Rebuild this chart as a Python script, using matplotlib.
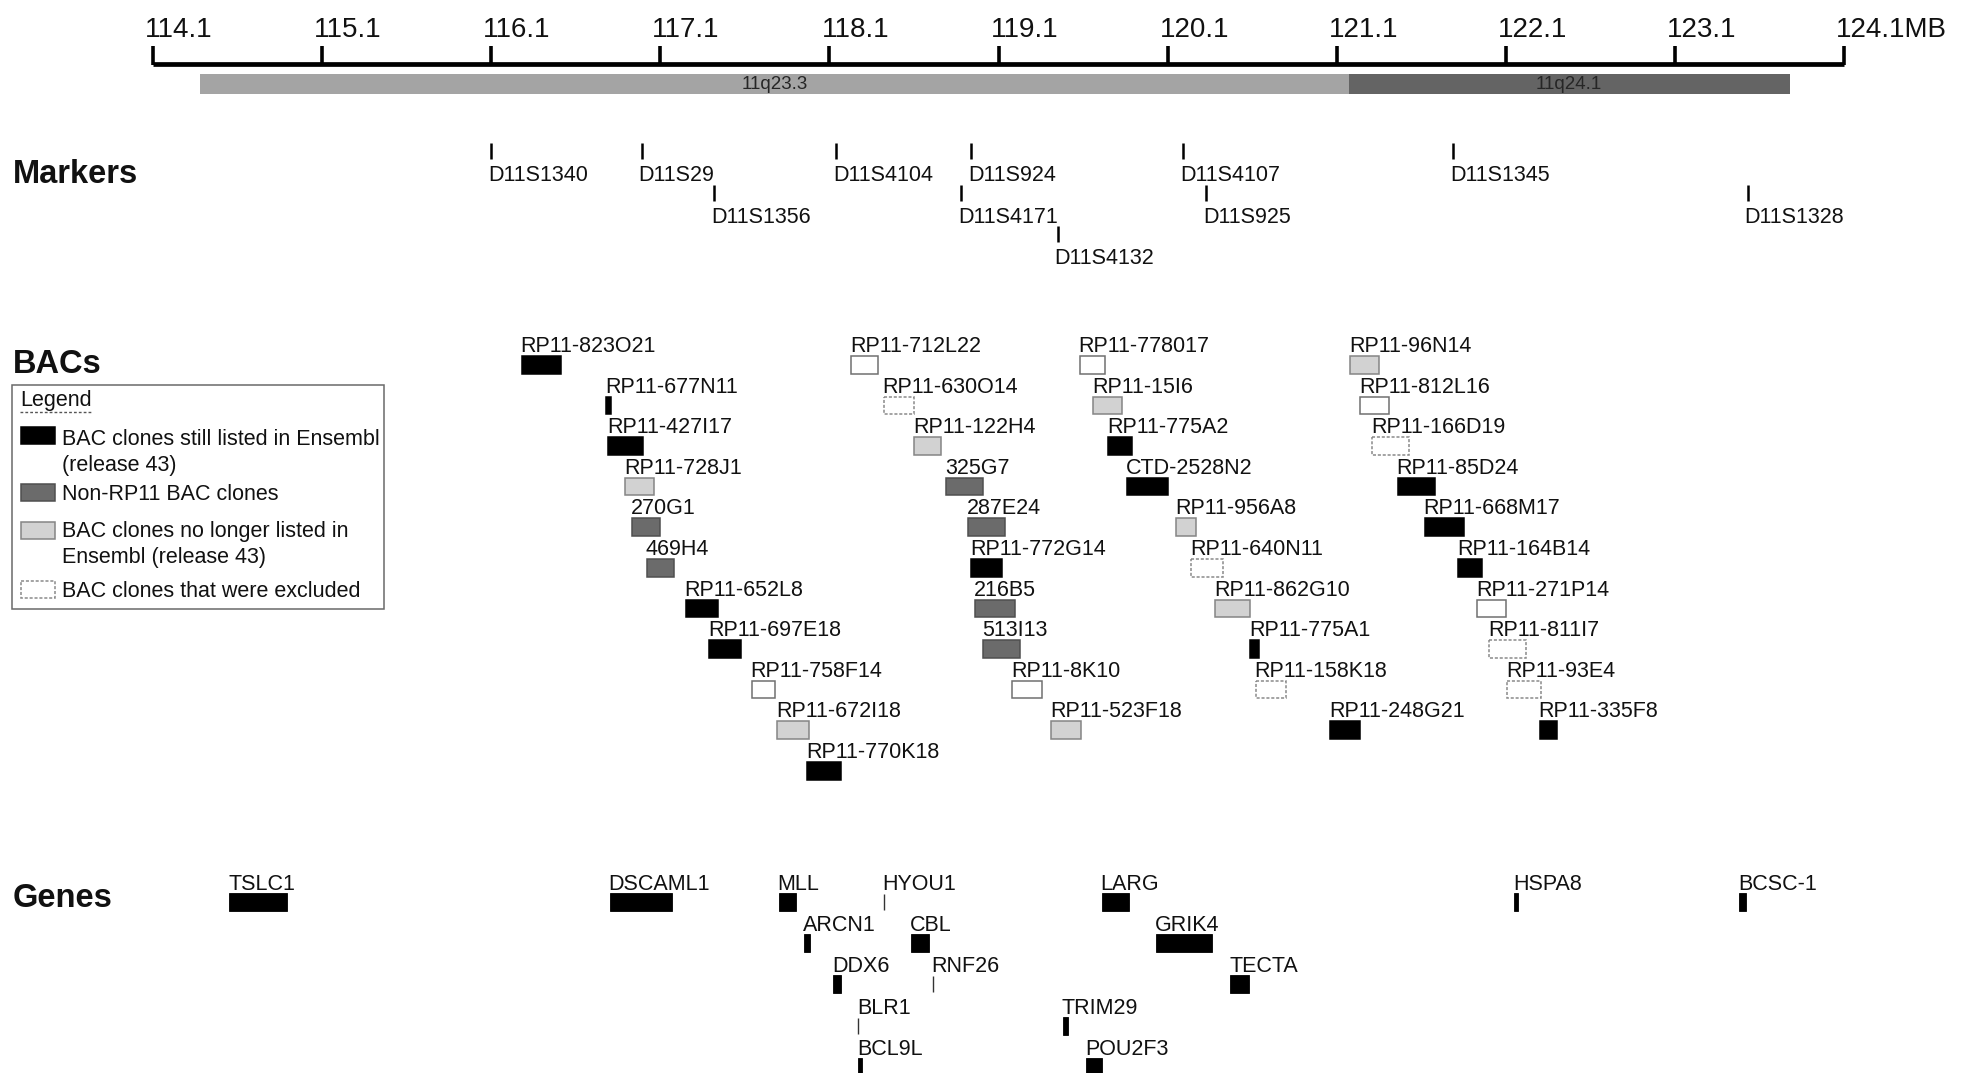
import matplotlib
matplotlib.use("Agg")
import matplotlib.pyplot as plt
from matplotlib.patches import Rectangle
from matplotlib.lines import Line2D
from matplotlib.transforms import offset_copy

plt.rcParams['font.family'] = ['Liberation Sans', 'DejaVu Sans']

# ---------------- data (positions in Mb on chromosome 11) ----------------
scale_ticks = [114.1, 115.1, 116.1, 117.1, 118.1, 119.1, 120.1, 121.1, 122.1, 123.1, 124.1]
scale_labels = ["114.1", "115.1", "116.1", "117.1", "118.1", "119.1", "120.1",
                "121.1", "122.1", "123.1", "124.1MB"]

band_names = ["11q23.3", "11q24.1"]
band_start = [114.38, 121.17]
band_end = [121.17, 123.78]

marker_names = ["D11S1340", "D11S29", "D11S1356", "D11S4104", "D11S924", "D11S4171",
                "D11S4132", "D11S4107", "D11S925", "D11S1345", "D11S1328"]
marker_pos = [116.10, 116.99, 117.42, 118.14, 118.94, 118.88,
              119.45, 120.19, 120.33, 121.79, 123.53]
marker_row = [0, 0, 1, 0, 0, 1, 2, 0, 1, 0, 1]

bac_names = [
    "RP11-823O21", "RP11-677N11", "RP11-427I17", "RP11-728J1", "270G1", "469H4",
    "RP11-652L8", "RP11-697E18", "RP11-758F14", "RP11-672I18", "RP11-770K18",
    "RP11-712L22", "RP11-630O14", "RP11-122H4", "325G7", "287E24", "RP11-772G14",
    "216B5", "513I13", "RP11-8K10", "RP11-523F18",
    "RP11-778017", "RP11-15I6", "RP11-775A2", "CTD-2528N2", "RP11-956A8",
    "RP11-640N11", "RP11-862G10", "RP11-775A1", "RP11-158K18", "RP11-248G21",
    "RP11-96N14", "RP11-812L16", "RP11-166D19", "RP11-85D24", "RP11-668M17",
    "RP11-164B14", "RP11-271P14", "RP11-811I7", "RP11-93E4", "RP11-335F8",
]
bac_start = [
    116.28, 116.78, 116.79, 116.89, 116.93, 117.02, 117.25, 117.39, 117.64, 117.79, 117.97,
    118.23, 118.42, 118.60, 118.79, 118.92, 118.94, 118.96, 119.01, 119.18, 119.41,
    119.58, 119.66, 119.75, 119.86, 120.15, 120.24, 120.38, 120.59, 120.62, 121.06,
    121.18, 121.24, 121.31, 121.46, 121.62, 121.82, 121.93, 122.00, 122.11, 122.30,
]
bac_end = [
    116.51, 116.81, 117.00, 117.06, 117.10, 117.18, 117.44, 117.58, 117.78, 117.98, 118.17,
    118.39, 118.60, 118.76, 119.01, 119.14, 119.12, 119.20, 119.23, 119.36, 119.59,
    119.73, 119.83, 119.89, 120.10, 120.27, 120.43, 120.59, 120.64, 120.80, 121.24,
    121.35, 121.41, 121.53, 121.68, 121.85, 121.96, 122.10, 122.22, 122.31, 122.40,
]
bac_row = [
    0, 1, 2, 3, 4, 5, 6, 7, 8, 9, 10,
    0, 1, 2, 3, 4, 5, 6, 7, 8, 9,
    0, 1, 2, 3, 4, 5, 6, 7, 8, 9,
    0, 1, 2, 3, 4, 5, 6, 7, 8, 9,
]
# listed = still in Ensembl, nonrp11 = non-RP11 clone, unlisted = no longer listed,
# excluded = excluded clone, other = plain outlined clone
bac_status = [
    "listed", "listed", "listed", "unlisted", "nonrp11", "nonrp11",
    "listed", "listed", "other", "unlisted", "listed",
    "other", "excluded", "unlisted", "nonrp11", "nonrp11", "listed",
    "nonrp11", "nonrp11", "other", "unlisted",
    "other", "unlisted", "listed", "listed", "unlisted",
    "excluded", "unlisted", "listed", "excluded", "listed",
    "unlisted", "other", "excluded", "listed", "listed",
    "listed", "other", "excluded", "excluded", "listed",
]

gene_names = ["TSLC1", "DSCAML1", "MLL", "HYOU1", "ARCN1", "CBL", "DDX6", "RNF26",
              "BLR1", "BCL9L", "LARG", "GRIK4", "TECTA", "TRIM29", "POU2F3",
              "HSPA8", "BCSC-1"]
gene_start = [114.55, 116.80, 117.80, 118.42, 117.95, 118.58, 118.12, 118.71,
              118.27, 118.27, 119.71, 120.03, 120.47, 119.48, 119.62, 122.15, 123.48]
gene_end = [114.89, 117.17, 117.90, 118.42, 117.985, 118.69, 118.17, 118.71,
            118.27, 118.29, 119.87, 120.36, 120.58, 119.51, 119.71, 122.17, 123.52]
gene_row = [0, 0, 0, 0, 1, 1, 2, 2, 3, 4, 0, 1, 2, 3, 4, 0, 0]

legend_labels = ["BAC clones still listed in Ensembl\n(release 43)",
                 "Non-RP11 BAC clones",
                 "BAC clones no longer listed in\nEnsembl (release 43)",
                 "BAC clones that were excluded"]
legend_status = ["listed", "nonrp11", "unlisted", "excluded"]

# ---------------- styles ----------------
STYLE = {
    "listed":   dict(facecolor="#000000", edgecolor="#000000", linestyle="-"),
    "nonrp11":  dict(facecolor="#6b6b6b", edgecolor="#4f4f4f", linestyle="-"),
    "unlisted": dict(facecolor="#d2d2d2", edgecolor="#858585", linestyle="-"),
    "other":    dict(facecolor="#ffffff", edgecolor="#707070", linestyle="-"),
    "excluded": dict(facecolor="#ffffff", edgecolor="#8a8a8a", linestyle=(0, (2.0, 1.2))),
}
FS = 15.5
PX_PER_MB = 169.1
W, H = 1962, 1073
XMIN = 114.1 - 153 / PX_PER_MB
XMAX = XMIN + W / PX_PER_MB

fig = plt.figure(figsize=(W / 100, H / 100), dpi=100)
ax = fig.add_axes([0, 0, 1, 1])
ax.set_xlim(XMIN, XMAX)
ax.set_ylim(H, 0)
ax.axis("off")

lay = fig.add_axes([0, 0, 1, 1], facecolor="none")
lay.set_xlim(0, W)
lay.set_ylim(H, 0)
lay.axis("off")


def shifted(dx):
    return offset_copy(ax.transData, fig=fig, x=dx, y=0, units="dots")


# ---------------- scale bar ----------------
ax.plot([scale_ticks[0], scale_ticks[-1]], [64, 64], color="black", lw=3.4,
        solid_capstyle="butt")
ax.vlines(scale_ticks, 46, 65, color="black", lw=2.6)
for t, lab in zip(scale_ticks, scale_labels):
    ax.text(t, 37, lab, transform=shifted(-8), ha="left", va="baseline",
            fontsize=20, color="#111111")

# chromosome bands
band_colors = ["#a4a4a4", "#646464"]
for name, s, e, c in zip(band_names, band_start, band_end, band_colors):
    ax.add_patch(Rectangle((s, 74), e - s, 20, facecolor=c, edgecolor="none"))
    ax.text((s + e) / 2, 84.5, name, ha="center", va="center", fontsize=13.5,
            color="#262626")

# ---------------- section titles ----------------
for title, yb in [("Markers", 183), ("BACs", 373), ("Genes", 907)]:
    lay.text(13, yb, title, ha="left", va="baseline", fontsize=23.5,
             fontweight="bold", color="#111111")

# ---------------- markers ----------------
for name, p, r in zip(marker_names, marker_pos, marker_row):
    y0 = 143 + 41.7 * r
    ax.vlines(p, y0, y0 + 16, color="black", lw=1.8)
    ax.text(p, 181 + 41.7 * r, name, transform=shifted(-3), ha="left",
            va="baseline", fontsize=FS, color="#111111")

# ---------------- BAC clones ----------------
for name, s, e, r, st in zip(bac_names, bac_start, bac_end, bac_row, bac_status):
    top = 356 + 40.6 * r
    sty = STYLE[st]
    ax.add_patch(Rectangle((s, top), e - s, 17.5, facecolor=sty["facecolor"],
                           edgecolor=sty["edgecolor"], linestyle=sty["linestyle"],
                           lw=1.1))
    ax.text(s, 352 + 40.6 * r, name, transform=shifted(-1), ha="left",
            va="baseline", fontsize=FS, color="#111111")

# ---------------- genes ----------------
for name, s, e, r in zip(gene_names, gene_start, gene_end, gene_row):
    top = 893 + 41.2 * r
    if e > s:
        ax.add_patch(Rectangle((s, top), e - s, 18, facecolor="black",
                               edgecolor="black", lw=0.6))
    else:
        ax.vlines(s, top + 1, top + 17, color="#333333", lw=1.0)
    ax.text(s, 890 + 41.2 * r, name, transform=shifted(-1), ha="left",
            va="baseline", fontsize=FS, color="#111111")

# ---------------- legend ----------------
lay.add_patch(Rectangle((11.5, 384.5), 372.5, 224.5, facecolor="white",
                        edgecolor="#6a6a6a", lw=1.1))
lay.text(20, 406, "Legend", ha="left", va="baseline", fontsize=FS, color="#111111")
lay.add_line(Line2D([20, 92], [412, 412], color="#555555", lw=1.0,
                    linestyle=(0, (2, 1.5))))
swatch_top = [427, 484, 522, 581]
text_base = [445, 500, 537, 597]
for st, lab, ty, tb in zip(legend_status, legend_labels, swatch_top, text_base):
    sty = STYLE[st]
    lay.add_patch(Rectangle((21, ty), 34, 17, facecolor=sty["facecolor"],
                            edgecolor=sty["edgecolor"], linestyle=sty["linestyle"],
                            lw=1.1))
    lines = lab.split("\n")
    for i, ln in enumerate(lines):
        lay.text(62, tb + 25.5 * i, ln, ha="left", va="baseline", fontsize=FS,
                 color="#111111")

fig.savefig("out.png", dpi=100, facecolor="white")
